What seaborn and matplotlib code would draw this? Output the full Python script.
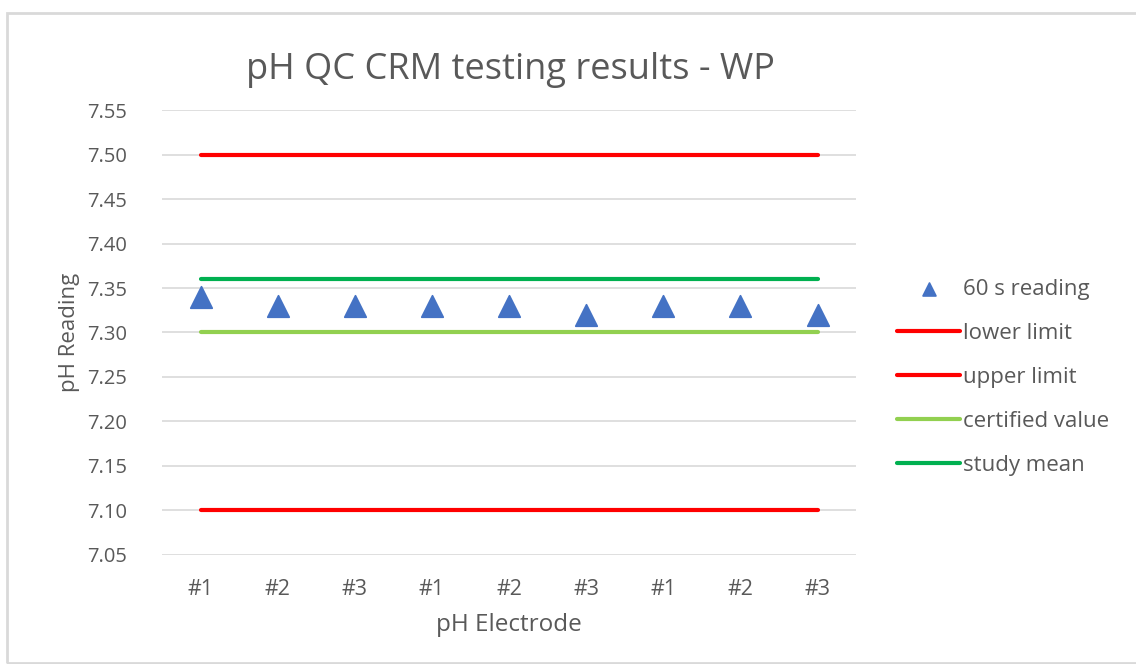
import numpy as np
import pandas as pd
import matplotlib.pyplot as plt
import seaborn as sns
from matplotlib.patches import Rectangle

# Chart data
electrodes = ['#1', '#2', '#3', '#1', '#2', '#3', '#1', '#2', '#3']
reading_60s = [7.34, 7.33, 7.33, 7.33, 7.33, 7.32, 7.33, 7.33, 7.32]
lower_limit = [7.10] * 9
upper_limit = [7.50] * 9
certified_value = [7.30] * 9
study_mean = [7.36] * 9
y_ticks = [7.05, 7.10, 7.15, 7.20, 7.25, 7.30, 7.35, 7.40, 7.45, 7.50, 7.55]

pos = np.arange(len(electrodes))
df = pd.DataFrame({'pos': pos, 'reading': reading_60s, 'lower': lower_limit,
                   'upper': upper_limit, 'certified': certified_value,
                   'mean': study_mean})

sns.set_style('white')
plt.rcParams['font.family'] = ['Open Sans', 'DejaVu Sans']
text_col = '#595959'

fig = plt.figure(figsize=(11.36, 6.64), dpi=100)
ax = fig.add_axes([0.1426, 0.1642, 0.611, 0.6701])

# outer chart border
fig.patches.append(Rectangle((7 / 1136, 1 - 663 / 664), 1.2, 650 / 664,
                             transform=fig.transFigure, fill=False,
                             edgecolor='#d9d9d9', lw=2))

sns.lineplot(data=df, x='pos', y='upper', ax=ax, color='#ff0000', lw=3,
             solid_capstyle='round', label='upper limit')
sns.lineplot(data=df, x='pos', y='lower', ax=ax, color='#ff0000', lw=3,
             solid_capstyle='round', label='lower limit')
sns.lineplot(data=df, x='pos', y='certified', ax=ax, color='#92d050', lw=3,
             solid_capstyle='round', label='certified value')
sns.lineplot(data=df, x='pos', y='mean', ax=ax, color='#00b050', lw=3,
             solid_capstyle='round', label='study mean')
sns.scatterplot(data=df, x='pos', y='reading', ax=ax, marker='^', s=240,
                color='#4472c4', edgecolor='#4472c4', label='60 s reading',
                zorder=5)

ax.set_xlim(-0.5, len(electrodes) - 0.5)
ax.set_ylim(7.05, 7.55)
ax.set_yticks(y_ticks)
ax.set_yticklabels([f'{v:.2f}' for v in y_ticks])
ax.set_xticks(pos)
ax.set_xticklabels(electrodes)
ax.tick_params(axis='both', length=0, labelcolor=text_col)
ax.tick_params(axis='y', pad=25, labelsize=14.5)
ax.tick_params(axis='x', pad=17, labelsize=15.5)
ax.grid(axis='y', color='#d9d9d9', lw=1.2)
ax.set_axisbelow(True)
for s in ax.spines.values():
    s.set_visible(False)

ax.set_xlabel('pH Electrode', fontsize=17.5, color=text_col, labelpad=10)
ax.set_ylabel('pH Reading', fontsize=16, color=text_col, labelpad=5)
fig.text(0.449, 1 - 70 / 664, 'pH QC CRM testing results - WP',
         fontsize=26, color=text_col, ha='center', va='center')

# legend in Excel order
handles, labels = ax.get_legend_handles_labels()
order = ['60 s reading', 'lower limit', 'upper limit', 'certified value', 'study mean']
hmap = dict(zip(labels, handles))
leg = ax.legend([hmap[k] for k in order], order, loc='upper left',
                bbox_to_anchor=(897 / 1136, 1 - 279 / 664),
                bbox_transform=fig.transFigure, frameon=False, fontsize=16,
                labelcolor=text_col, handlelength=2.85, handletextpad=0.12,
                labelspacing=1.03, borderpad=0, borderaxespad=0,
                markerscale=0.6)

fig.savefig('out.png', dpi=100)
